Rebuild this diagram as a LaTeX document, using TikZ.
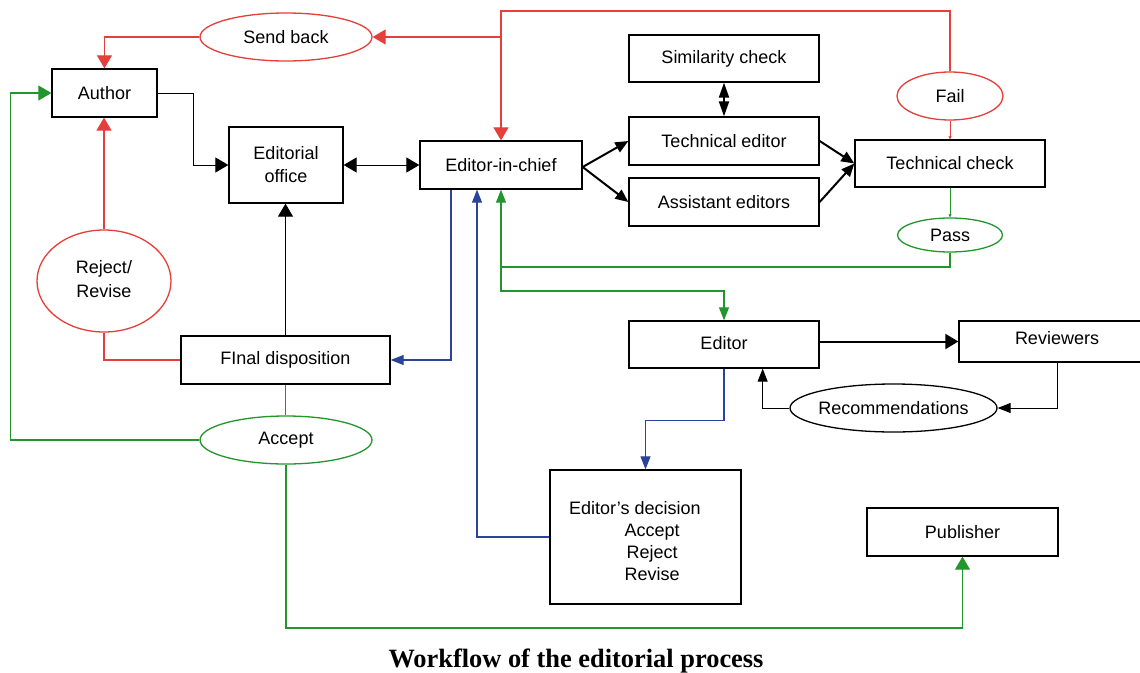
\documentclass[tikz,border=0pt]{standalone}
\usepackage{fontspec}
\setmainfont{Liberation Sans}
\newfontfamily\titlefont{Liberation Serif}
\usetikzlibrary{arrows.meta,shapes.geometric,calc}
\definecolor{cred}{RGB}{230,62,58}
\definecolor{cgreen}{RGB}{34,150,44}
\definecolor{cblue}{RGB}{44,68,152}
\tikzset{
  tipA/.tip={Triangle[length=13pt,width=15pt]},
  tipB/.tip={Triangle[length=13pt,width=10pt]},
  tipC/.tip={Triangle[length=13pt,width=11pt]},
  tipD/.tip={Triangle[length=15pt,width=10pt]},
  tipS/.tip={Triangle[length=3pt,width=3pt]},
  box/.style={draw, line width=1.3pt, rectangle, inner sep=0pt, align=center,
    font=\fontsize{18}{23}\selectfont},
  ell/.style={draw, line width=1.3pt, ellipse, inner sep=0pt,
    font=\fontsize{18}{23}\selectfont},
  conn/.style={line width=1pt},
  thickconn/.style={line width=2pt},
  rconn/.style={line width=1.2pt, draw=cred},
  gconn/.style={line width=1.1pt, draw=cgreen},
  bconn/.style={line width=1.1pt, draw=cblue},
}
\begin{document}
\begin{tikzpicture}[x=1pt,y=-1pt]
\clip (0,0) rectangle (1140,672);
\fill[white] (0,0) rectangle (1140,672);

% boxes
\node[box, minimum width=105, minimum height=48] (author) at (104.5,93) {Author};
\node[box, minimum width=114, minimum height=76] (office) at (286,165) {Editorial\\office};
\node[box, minimum width=162, minimum height=48] (eic) at (501,165) {Editor-in-chief};
\node[box, minimum width=190, minimum height=47] (sim) at (724,58.5) {Similarity check};
\node[box, minimum width=190, minimum height=48] (tedit) at (724,141) {Technical editor};
\node[box, minimum width=190, minimum height=48] (aedit) at (724,202) {Assistant editors};
\node[box, minimum width=190, minimum height=47] (tcheck) at (950,163.5) {Technical check};
\node[box, minimum width=190, minimum height=47, text depth=4pt] (editor) at (724,344.5) {Editor};
\node[box, minimum width=196, minimum height=41, text depth=8pt] (rev) at (1057,341.5) {Reviewers};
\node[box, minimum width=209, minimum height=48] (final) at (285.5,360) {FInal disposition};
\node[box, minimum width=191, minimum height=48] (pub) at (962.5,532) {Publisher};
\node[box, minimum width=191, minimum height=134] (dec) at (645.5,537) {};
\node[anchor=west, align=left, inner sep=0pt, font=\fontsize{18}{22}\selectfont]
  (dectext) at (569,541) {Editor’s decision\\\hspace*{55.5pt}Accept\\\hspace*{57.5pt}Reject\\\hspace*{55.5pt}Revise};

% ellipses
\node[ell, draw=cred, minimum width=172, minimum height=48] (sendback) at (286,37) {\makebox[0pt]{Send back}};
\node[ell, draw=cred, minimum width=106, minimum height=48] (fail) at (950,96) {\makebox[0pt]{Fail}};
\node[ell, draw=cgreen, minimum width=105, minimum height=34] (pass) at (950,235) {\makebox[0pt]{Pass}};
\node[ell, draw=cred, minimum width=134, minimum height=102] (rr) at (104,281)
  {\makebox[0pt]{\begin{tabular}{@{}c@{}}Reject/\\[1pt]Revise\end{tabular}}};
\node[ell, draw=cgreen, minimum width=172, minimum height=48] (accept) at (286,440) {\makebox[0pt]{Accept}};
\node[ell, draw=black, minimum width=207, minimum height=48] (rec) at (893.5,408) {\makebox[0pt]{Recommendations}};

% title
\node[anchor=base, inner sep=0pt, font=\titlefont\bfseries\fontsize{26.4}{30}\selectfont]
  (title) at (576,667.5) {Workflow of the editorial process};

% helper coordinates
\coordinate (rtop) at (501,11);
\coordinate (g1) at (501,267);

% black connectors
\draw[conn, -tipA] (author.east) -- ++(36,0) |- (office.west);
\draw[conn, tipA-tipA] (office.east) -- (eic.west);
\draw[thickconn, -tipC] ([yshift=-2pt]eic.east) -- (tedit.west);
\draw[thickconn, -tipC] ([yshift=-2pt]eic.east) -- (aedit.west);
\draw[thickconn, tipD-tipD] (sim.south) -- (tedit.north);
\draw[thickconn, -tipC] (tedit.east) -- (tcheck.west);
\draw[thickconn, -tipC] (aedit.east) -- (tcheck.west);
\draw[thickconn, -tipA] (rev.west -| editor.east) -- (rev.west);
\draw[conn, -tipB] (rev.south) |- (rec.east);
\draw[conn, -tipB] (rec.west) -| ([xshift=-57pt]editor.south east);
\draw[conn, -tipA] (final.north) -- (final.north |- office.south);

% red connectors
\draw[rconn, -tipA] (fail.north) |- (rtop) -- (eic.north);
\draw[rconn, -tipA] (eic.north |- sendback.east) -- (sendback.east);
\draw[rconn, -tipA] (sendback.west) -| (author.north);
\draw[rconn, line width=0.8pt, -tipS] (fail.south) -- (tcheck.north);
\draw[rconn] (final.west) -| (rr.south);
\draw[rconn, -tipA] (rr.north) -- (rr.north |- author.south);

% green connectors
\draw[gconn, line width=0.8pt, -tipS] (tcheck.south) -- (pass.north);
\draw[gconn, -tipB] (pass.south) |- (g1) -- (eic.south);
\draw[gconn, -tipB] (g1) -- ++(0,24) -| (editor.north);
\draw[gconn] (final.south) -- (final.south |- accept.north);
\draw[gconn, -tipA] (accept.west) -- ++(-189,0) |- (author.west);
\draw[gconn, -tipA] (accept.south) -- (accept.south |- 0,628) -| (pub.south);

% blue connectors
\draw[bconn, -tipB] ([xshift=-50pt]eic.south) |- (final.east);
\draw[bconn, -tipB] (dec.west) -| ([xshift=-24pt]eic.south);
\draw[bconn, -tipB] (editor.south) -- ++(0,52) -| (dec.north);
\end{tikzpicture}
\end{document}
